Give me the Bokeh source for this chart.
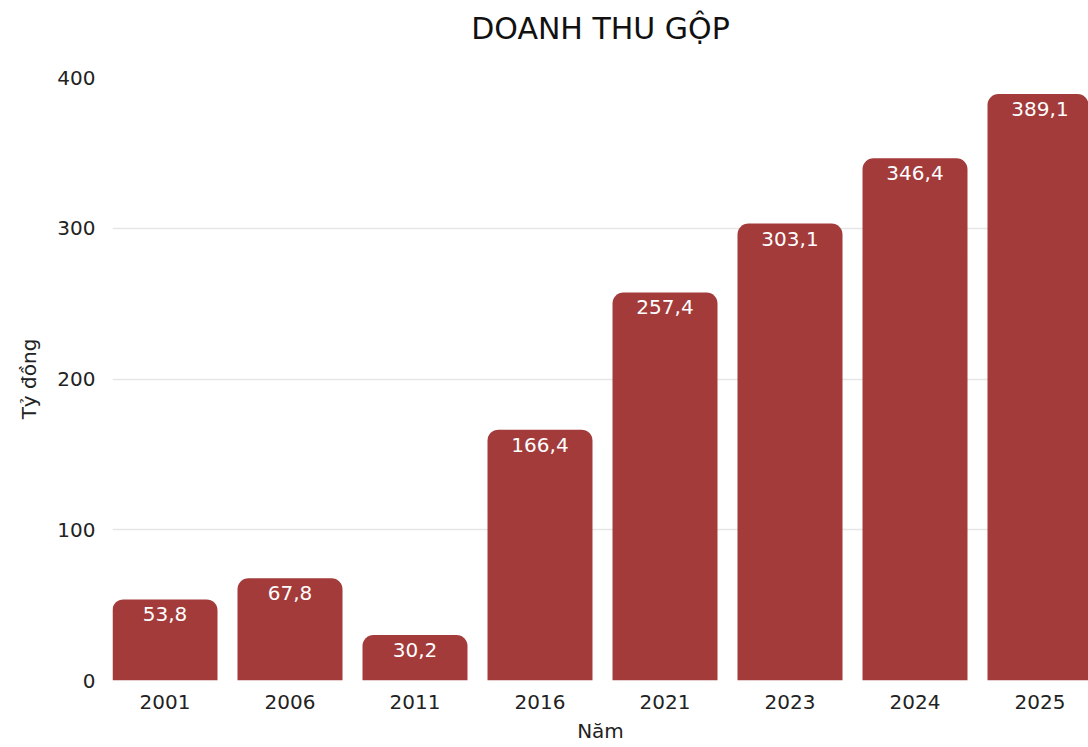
from bokeh.plotting import figure
from bokeh.models import ColumnDataSource, Range1d, FixedTicker, Title
from bokeh.core.properties import value
from bokeh.embed import file_html
from bokeh.resources import INLINE

years = ["2001", "2006", "2011", "2016", "2021", "2023", "2024", "2025"]
revenue = [53.8, 67.8, 30.2, 166.4, 257.4, 303.1, 346.4, 389.1]
y_ticks = [0, 100, 200, 300, 400]
title_text = "DOANH THU GỘP"

FONT = "DejaVu Sans"
BAR = "#a33b3b"

xs = list(range(len(years)))
labels = [f"{v:.1f}".replace(".", ",") for v in revenue]
src = ColumnDataSource(dict(x=xs, top=revenue, label=labels))

p = figure(width=1088, height=747, output_backend="svg", toolbar_location=None,
           x_range=Range1d(-0.42, 7.388), y_range=Range1d(0, 400),
           min_border_left=112, min_border_right=0, min_border_top=77, min_border_bottom=67)
p.outline_line_color = None
p.background_fill_color = "white"

# spacer panel between frame and title
p.add_layout(Title(text=" ", text_font_size="1px", standoff=20), "above")
p.add_layout(Title(text=title_text, align="center", vertical_align="middle",
                   text_font=FONT, text_font_size="30px", text_font_style="normal",
                   text_color="#111111", standoff=16), "above")

p.vbar(x="x", top="top", bottom=0, width=0.84, source=src, fill_color=BAR,
       line_color=None, border_radius=(11, 11, 0, 0))
p.text(x="x", y="top", text="label", source=src, text_align="center",
       text_baseline="top", y_offset=8, text_color="white",
       text_font=value(FONT), text_font_size="20px")

p.xaxis.ticker = FixedTicker(ticks=xs)
p.xaxis.major_label_overrides = {i: y for i, y in enumerate(years)}
p.yaxis.ticker = FixedTicker(ticks=y_ticks)

for ax in (p.xaxis[0], p.yaxis[0]):
    ax.axis_line_color = None
    ax.major_tick_line_color = None
    ax.minor_tick_line_color = None
    ax.major_label_text_font = FONT
    ax.major_label_text_font_size = "20px"
    ax.major_label_text_color = "#222222"
    ax.axis_label_text_font = FONT
    ax.axis_label_text_font_size = "20px"
    ax.axis_label_text_font_style = "normal"
    ax.axis_label_text_color = "#222222"

p.xaxis.axis_label = "Năm"
p.yaxis.axis_label = "Tỷ đồng"
p.xaxis.major_label_standoff = 8
p.yaxis.major_label_standoff = 11
p.xaxis.axis_label_standoff = 7
p.yaxis.axis_label_standoff = 13

p.xgrid.grid_line_color = None
p.ygrid.grid_line_color = "#e6e6e6"
p.ygrid.grid_line_width = 1.5
p.ygrid.level = "underlay"

open("out.html", "w").write(file_html(p, INLINE))
